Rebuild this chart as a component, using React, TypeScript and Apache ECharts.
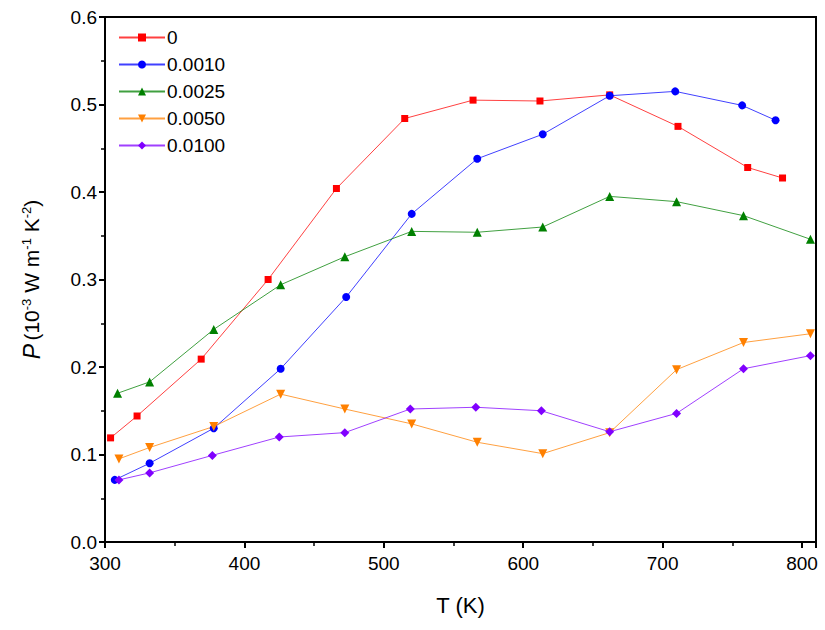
import { useEffect, useRef } from "react";
import * as echarts from "echarts";

// Series data: [T (K), P (1e-3 W m^-1 K^-2)]
const seriesNames = ["0", "0.0010", "0.0025", "0.0050", "0.0100"];
const p0: [number, number][] = [
  [304, 0.119], [323, 0.144], [369, 0.209], [417, 0.3], [466, 0.404], [515, 0.484],
  [564, 0.505], [612, 0.504], [662, 0.511], [711, 0.475], [761, 0.428], [786, 0.416],
];
const p0010: [number, number][] = [
  [307, 0.071], [332, 0.09], [378, 0.13], [426, 0.198], [473, 0.28], [520, 0.375],
  [567, 0.438], [614, 0.466], [662, 0.51], [709, 0.515], [757, 0.499], [781, 0.482],
];
const p0025: [number, number][] = [
  [309, 0.17], [332, 0.183], [378, 0.243], [426, 0.294], [472, 0.326], [520, 0.355],
  [567, 0.354], [614, 0.36], [662, 0.395], [710, 0.389], [758, 0.373], [806, 0.346],
];
const p0050: [number, number][] = [
  [310, 0.095], [332, 0.108], [378, 0.132], [426, 0.169], [472, 0.152], [520, 0.135],
  [567, 0.114], [614, 0.101], [662, 0.125], [710, 0.197], [758, 0.228], [806, 0.238],
];
const p0100: [number, number][] = [
  [310, 0.071], [332, 0.079], [377, 0.099], [425, 0.12], [472, 0.125], [519, 0.152],
  [566, 0.154], [613, 0.15], [662, 0.126], [710, 0.147], [758, 0.198], [806, 0.213],
];
const allData = [p0, p0010, p0025, p0050, p0100];
const colors = ["#ff0000", "#0000ff", "#008000", "#ff8000", "#8000ff"];
const symbols = ["rect", "circle", "triangle", "triangle", "diamond"];
const symbolSizes = [7, 8, 9, 9, 9];
const symbolRotates = [0, 0, 0, 180, 0];

const FONT = "Liberation Sans, Arial, sans-serif";

export default function App() {
  const ref = useRef<HTMLDivElement | null>(null);

  useEffect(() => {
    if (!ref.current) return;
    const chart = echarts.init(ref.current, undefined, { renderer: "svg" });
    const axisCommon = {
      axisLine: { show: true, lineStyle: { color: "#000", width: 2 } },
      axisTick: { show: true, length: 6, lineStyle: { color: "#000", width: 2 } },
      minorTick: { show: true, splitNumber: 2, length: 4, lineStyle: { color: "#000", width: 1.5 } },
      splitLine: { show: false },
      axisLabel: { color: "#000", fontSize: 19, fontFamily: FONT },
    };
    chart.setOption({
      animation: false,
      textStyle: { fontFamily: FONT },
      grid: {
        left: 105, right: 9, top: 17, bottom: 88,
        show: true, borderColor: "#000", borderWidth: 2,
      },
      legend: {
        orient: "vertical",
        left: 113,
        top: 23,
        itemWidth: 46,
        itemHeight: 10,
        itemGap: 8,
        data: seriesNames,
        textStyle: { fontSize: 19, color: "#000", fontFamily: FONT, padding: [0, 0, 0, -3] },
      },
      xAxis: {
        type: "value",
        min: 300,
        max: 810,
        interval: 100,
        ...axisCommon,
        axisLabel: { ...axisCommon.axisLabel, showMaxLabel: false, margin: 12 },
        name: "T (K)",
        nameLocation: "middle",
        nameGap: 52,
        nameTextStyle: { fontSize: 22, color: "#000", fontFamily: FONT },
      },
      yAxis: {
        type: "value",
        min: 0,
        max: 0.6,
        interval: 0.1,
        ...axisCommon,
        axisLabel: { ...axisCommon.axisLabel, formatter: (v: number) => v.toFixed(1) },
        name: "{i|P} {n|(10}{s|-3}{n| W m}{s|-1}{n| K}{s|-2}{n|)}",
        nameLocation: "middle",
        nameGap: 62,
        nameTextStyle: {
          color: "#000",
          rich: {
            i: { fontSize: 23, fontStyle: "italic", fontFamily: FONT },
            n: { fontSize: 21, fontFamily: FONT },
            s: { fontSize: 13, fontFamily: FONT, verticalAlign: "top", padding: [0, 0, 10, 0] },
          },
        },
      },
      series: allData.map((d, i) => ({
        name: seriesNames[i],
        type: "line",
        data: d,
        symbol: symbols[i],
        symbolSize: symbolSizes[i],
        symbolRotate: symbolRotates[i],
        itemStyle: { color: colors[i] },
        lineStyle: { color: colors[i], width: 1, opacity: 0.75 },
      })),
    });
    return () => chart.dispose();
  }, []);

  return (
    <div
      ref={ref}
      style={{ position: "fixed", left: 0, top: 0, width: 825, height: 630, background: "#fff" }}
    />
  );
}
